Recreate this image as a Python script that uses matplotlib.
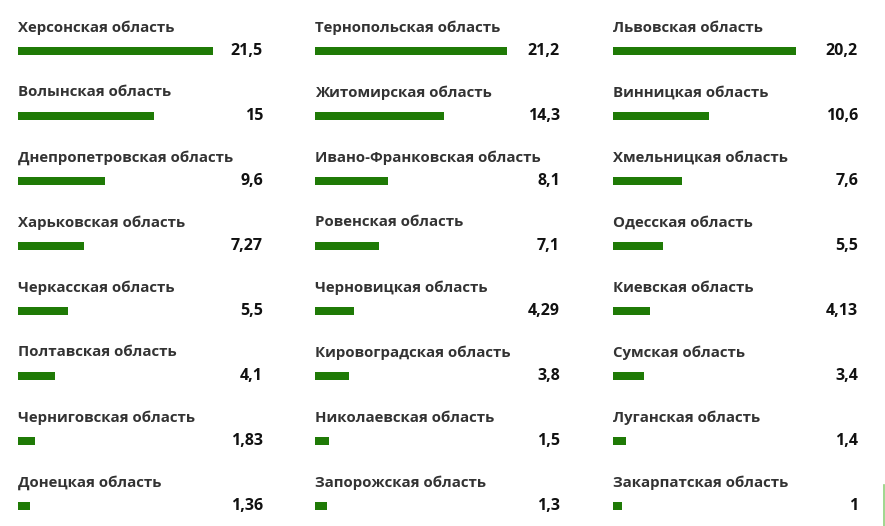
import matplotlib
matplotlib.use("Agg")
import matplotlib.pyplot as plt
from matplotlib.lines import Line2D

plt.rcParams['font.family'] = ['Open Sans', 'DejaVu Sans']

col1_labels = ["Херсонская область", "Волынская область", "Днепропетровская область",
               "Харьковская область", "Черкасская область", "Полтавская область",
               "Черниговская область", "Донецкая область"]
col1_values = [21.5, 15, 9.6, 7.27, 5.5, 4.1, 1.83, 1.36]
col1_text = ["21,5", "15", "9,6", "7,27", "5,5", "4,1", "1,83", "1,36"]

col2_labels = ["Тернопольская область", "Житомирская область", "Ивано-Франковская область",
               "Ровенская область", "Черновицкая область", "Кировоградская область",
               "Николаевская область", "Запорожская область"]
col2_values = [21.2, 14.3, 8.1, 7.1, 4.29, 3.8, 1.5, 1.3]
col2_text = ["21,2", "14,3", "8,1", "7,1", "4,29", "3,8", "1,5", "1,3"]

col3_labels = ["Львовская область", "Винницкая область", "Хмельницкая область",
               "Одесская область", "Киевская область", "Сумская область",
               "Луганская область", "Закарпатская область"]
col3_values = [20.2, 10.6, 7.6, 5.5, 4.13, 3.4, 1.4, 1]
col3_text = ["20,2", "10,6", "7,6", "5,5", "4,13", "3,4", "1,4", "1"]

W, H = 885, 526
fig = plt.figure(figsize=(W / 100, H / 100), dpi=100)

px_per_unit = 9.05
col_x0 = [18, 315, 613]
col_w = 245
row_h = 65
bar_c0 = 51
bar_color = "#1f7a06"

columns = [(col1_labels, col1_values, col1_text),
           (col2_labels, col2_values, col2_text),
           (col3_labels, col3_values, col3_text)]

for (labels, values, texts), x0 in zip(columns, col_x0):
    ax = fig.add_axes([x0 / W, 0, col_w / W, 1])
    xmax = col_w / px_per_unit
    ax.set_xlim(0, xmax)
    ax.set_ylim((H - bar_c0) / row_h, -bar_c0 / row_h)
    ax.axis('off')
    ys = list(range(len(values)))
    ax.barh(ys, values, height=8.5 / row_h, left=0, color=bar_color, align='center')
    for y, lab, t in zip(ys, labels, texts):
        ax.text(0, y - 23.5 / row_h, lab, fontsize=10.8, fontweight='bold',
                color='#333333', ha='left', va='center')
        ax.text(xmax, y, t, fontsize=11.5, fontweight='bold', color='#111111',
                ha='right', va='center')

fig.add_artist(Line2D([884 / W, 884 / W], [0, 41 / H], color='#8fd07a', lw=1.2))

fig.savefig("out.png", dpi=100)
